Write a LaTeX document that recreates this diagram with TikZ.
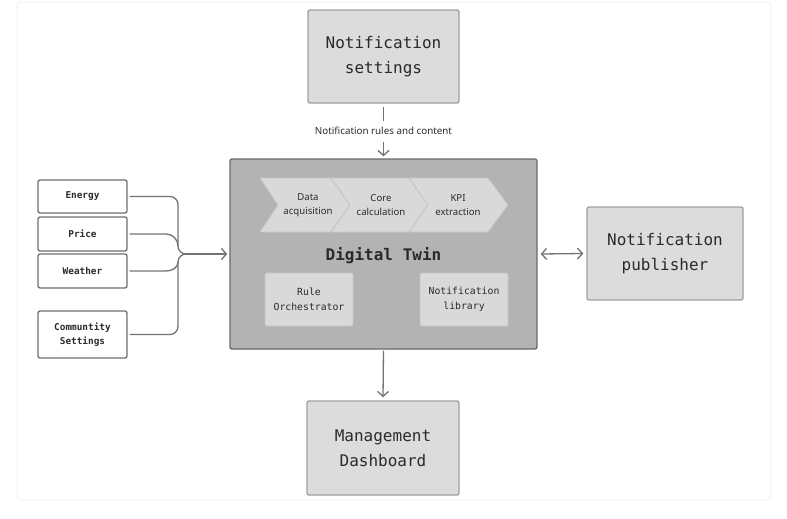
\documentclass[tikz,border=0pt]{standalone}
\usepackage{fontspec}
\setmainfont{Noto Sans}
\newfontfamily\monof{DejaVu Sans Mono}
\usetikzlibrary{arrows.meta}
\definecolor{boxfill}{HTML}{DCDCDC}
\definecolor{boxline}{HTML}{A0A0A0}
\definecolor{dtfill}{HTML}{B3B3B3}
\definecolor{dtline}{HTML}{6A6A6A}
\definecolor{innerfill}{HTML}{D9D9D9}
\definecolor{innerline}{HTML}{C6C6C6}
\definecolor{inline}{HTML}{6E6E6E}
\definecolor{txt}{HTML}{2A2A2A}
\definecolor{conn}{HTML}{737373}
\definecolor{frame}{HTML}{EEEEF4}
\tikzset{
  bigbox/.style={draw=boxline, fill=boxfill, line width=1.4pt, rounded corners=2pt, align=center,
    text=txt, font=\monof\fontsize{16}{25}\selectfont},
  inbox/.style={draw=inline, fill=white, line width=1.3pt, rounded corners=2pt, align=center,
    text=txt, font=\monof\bfseries\fontsize{9.4}{14.5}\selectfont, minimum width=89pt},
  innerbox/.style={draw=innerline, fill=innerfill, line width=0.9pt, rounded corners=1.5pt, align=center,
    text=txt, font=\monof\fontsize{9.8}{15}\selectfont, minimum width=88pt, minimum height=53pt},
  chev/.style={draw=innerline, fill=innerfill, line width=0.9pt, rounded corners=1pt},
  chevtxt/.style={align=center, text=txt, font=\fontsize{9.6}{14}\selectfont},
  connline/.style={draw=conn, line width=1.3pt},
  arr/.style={connline, -{Straight Barb[length=5pt,width=11pt]}},
  darr/.style={connline, {Straight Barb[length=5pt,width=11pt]}-{Straight Barb[length=5pt,width=11pt]}}
}
\begin{document}
\begin{tikzpicture}[x=1pt,y=-1pt]
\useasboundingbox (0,0) rectangle (787,519);
\draw[frame, line width=0.8pt, rounded corners=4pt] (17,2) rectangle (771,500);

% main boxes
\node[bigbox, minimum width=151pt, minimum height=93pt] (ns) at (383.5,56.5) {Notification\\settings};
\node[draw=dtline, fill=dtfill, line width=1.4pt, rounded corners=2pt, minimum width=307pt, minimum height=190pt] (dt) at (383.5,254) {};
\node[bigbox, minimum width=156pt, minimum height=93pt] (np) at (665,253.5) {Notification\\publisher};
\node[bigbox, minimum width=152pt, minimum height=94pt] (md) at (383,448) {Management\\Dashboard};

% chevrons
\draw[chev] (260,178) -- (331,178) -- (350,205) -- (331,232) -- (260,232) -- (278,205) -- cycle;
\draw[chev] (331,178) -- (409,178) -- (428,205) -- (409,232) -- (331,232) -- (350,205) -- cycle;
\draw[chev] (409,178) -- (488,178) -- (508,205) -- (488,232) -- (409,232) -- (428,205) -- cycle;
\node[chevtxt] (c1) at (308,205) {Data\\acquisition};
\node[chevtxt] (c2) at (381,205) {Core\\calculation};
\node[chevtxt] (c3) at (458,205) {KPI\\extraction};

\node[text=txt, font=\monof\bfseries\fontsize{16}{20}\selectfont] (dtl) at (383.5,256) {Digital Twin};
\node[innerbox] (ro) at (309,299.5) {Rule\\Orchestrator};
\node[innerbox] (nl) at (464,299.5) {Notification\\library};

% inputs
\node[inbox, minimum height=33pt] (en) at (82.5,196.5) {Energy};
\node[inbox, minimum height=34pt] (pr) at (82.5,234) {Price};
\node[inbox, minimum height=34pt] (we) at (82.5,271) {Weather};
\node[inbox, minimum height=47pt] (co) at (82.5,334.5) {Communtity\\Settings};

\coordinate (j) at (178,254);
\coordinate (js) at (186,254);
\draw[connline, rounded corners=8pt] ([xshift=2pt]en.east) -| (j) -- (js);
\draw[connline, rounded corners=8pt] ([xshift=2pt]co.east) -| (j) -- (js);
\draw[connline] ([xshift=2pt]pr.east) -- (166,234) to[out=0,in=90] (178,246);
\draw[connline] ([xshift=2pt]we.east) -- (166,271) to[out=0,in=-90] (178,262);
\draw[arr] (js) -- ([xshift=-2pt]dt.west);

% top label and arrows
\node[text=txt, font=\fontsize{9.8}{11}\selectfont, inner sep=0pt] (lbl) at (383.5,131) {Notification rules and content};
\draw[connline] ([yshift=-3pt]ns.south) -- ([yshift=6pt]lbl.north);
\draw[arr] ([yshift=-7pt]lbl.south) -- ([yshift=2pt]dt.north);
\draw[darr] ([xshift=3pt]dt.east) -- ([xshift=-3pt]np.west);
\draw[arr] ([yshift=-1pt]dt.south) -- ([yshift=3pt]md.north);
\end{tikzpicture}
\end{document}
